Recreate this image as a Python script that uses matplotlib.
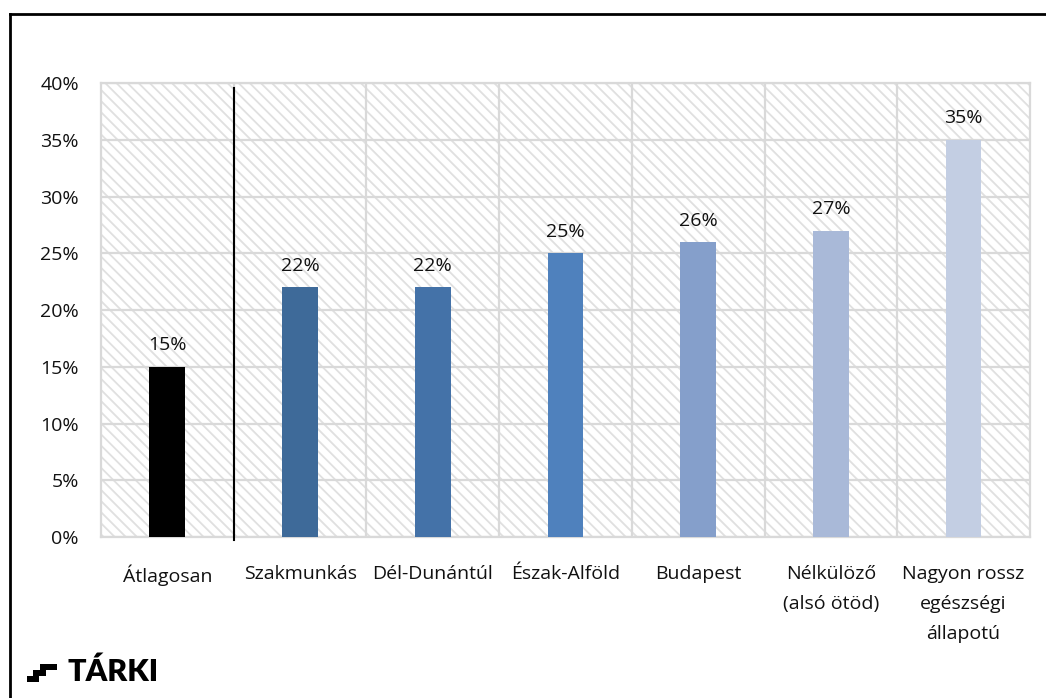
import numpy as np
import matplotlib.pyplot as plt
from matplotlib.patches import Rectangle, Polygon
import matplotlib.ticker as mticker

plt.rcParams['font.family'] = ['Open Sans', 'DejaVu Sans']
plt.rcParams['hatch.linewidth'] = 1.3
plt.rcParams['hatch.color'] = '#E0E0E0'

kategoriak = ['Átlagosan', 'Szakmunkás', 'Dél-Dunántúl', 'Észak-Alföld', 'Budapest',
              'Nélkülöző\n(alsó ötöd)', 'Nagyon rossz\negészségi\nállapotú']
ertekek = [15, 22, 22, 25, 26, 27, 35]
szinek = ['#000000', '#3E6A99', '#4472A8', '#4F81BD', '#859FCB', '#A9B9D8', '#C3CEE3']
y_ticks = [0, 5, 10, 15, 20, 25, 30, 35, 40]

fig = plt.figure(figsize=(10.46, 6.98), dpi=100)
ax = fig.add_axes([0.0966, 0.2307, 0.888, 0.650])

x = np.arange(len(kategoriak))

# csikos hatter
ax.add_patch(Rectangle((0, 0), 1, 1, transform=ax.transAxes, facecolor='white',
                       edgecolor='#E0E0E0', hatch='\\\\\\', linewidth=0, zorder=0))

ax.set_xlim(-0.5, len(kategoriak) - 0.5)
ax.set_ylim(0, 40)

for yv in y_ticks:
    ax.axhline(yv, color='#D9D9D9', linewidth=1.6, zorder=1)
for xv in np.arange(0.5, len(kategoriak) - 0.5, 1):
    ax.axvline(xv, color='#D9D9D9', linewidth=1.6, zorder=1)

bars = ax.bar(x, ertekek, width=0.27, color=szinek, zorder=3)

for xi, v in zip(x, ertekek):
    ax.annotate(f'{v}%', (xi, v), xytext=(0, 9), textcoords='offset points',
                ha='center', va='bottom', fontsize=14, color='#111111')

# elvalaszto vonal
ax.plot([0.5, 0.5], [-0.3, 39.6], color='black', linewidth=1.5, zorder=4, clip_on=False)

ax.set_xticks(x)
ax.set_xticklabels(kategoriak, fontsize=14, linespacing=1.85, color='#111111')
ax.set_yticks(y_ticks)
ax.yaxis.set_major_formatter(mticker.FuncFormatter(lambda v, p: f'{int(v)}%'))
ax.tick_params(axis='y', length=0, pad=16, labelsize=14, labelcolor='#111111')
ax.tick_params(axis='x', length=0, pad=20)

for s in ax.spines.values():
    s.set_color('#D9D9D9')
    s.set_linewidth(1.6)

# keret
fig.add_artist(plt.Line2D([9.5 / 1046, 1], [1 - 14 / 698, 1 - 14 / 698], color='black',
                          linewidth=2, transform=fig.transFigure))
fig.add_artist(plt.Line2D([9.5 / 1046, 9.5 / 1046], [0, 1 - 14 / 698], color='black',
                          linewidth=2, transform=fig.transFigure))

# TARKI logo
lepcso = [(27, 682), (27, 676), (33, 676), (33, 670), (40, 670), (40, 664), (57, 664),
          (57, 670), (46, 670), (46, 676), (39, 676), (39, 682)]
fig.add_artist(Polygon([(px / 1046, 1 - py / 698) for px, py in lepcso], closed=True,
                       facecolor='black', edgecolor='none', transform=fig.transFigure))
fig.text(68 / 1046, 1 - 672 / 698, 'TÁRKI', family=['Lato', 'DejaVu Sans'], fontsize=22,
         fontweight='heavy', va='center', ha='left', color='black')

fig.savefig('out.png', dpi=100)
